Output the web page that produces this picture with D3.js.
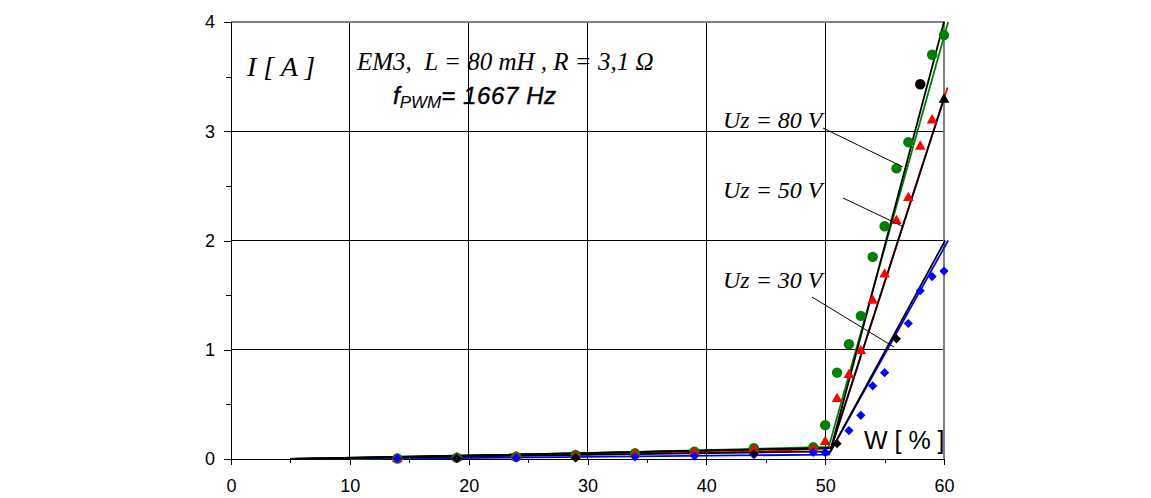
<!DOCTYPE html>
<html><head><meta charset="utf-8">
<script src="https://cdn.jsdelivr.net/npm/d3@7"></script>
<style>body{margin:0;background:#fff}svg{display:block}</style>
</head><body>
<script>
// ---- data ----
const xTicks = [0,10,20,30,40,50,60];
const yTicks = [0,1,2,3,4];
const greenX = [14,19,24,29,34,39,44,49,50,51,52,53,54,55,56,57,59,60];
const greenY = [0.005,0.012,0.021,0.037,0.052,0.067,0.098,0.107,0.31,0.79,1.05,1.31,1.85,2.13,2.66,2.90,3.70,3.88];
const redX = [14,19,24,29,34,39,44,49,50,51,52,53,54,55,56,57,58,59];
const redY = [0.0,0.01,0.018,0.03,0.045,0.06,0.085,0.09,0.156,0.55,0.77,0.99,1.45,1.69,2.18,2.39,2.86,3.10];
const blueX = [14,19,24,29,34,39,44,49,50,52,53,54,55,57,58,59,60];
const blueY = [0.005,0.005,0.01,0.012,0.02,0.027,0.04,0.06,0.06,0.26,0.40,0.67,0.79,1.24,1.54,1.67,1.72];
const blackDiamondX = [19,29,44,51,56];
const blackDiamondY = [0.005,0.01,0.05,0.14,1.10];
const blackCircleX = [58], blackCircleY = [3.43];
const blackTriangleX = [60], blackTriangleY = [3.29];
// model lines
const greenLineX = [10,50.3,60.35], greenLineY = [0,0.11,4.0];
const redLineX = [5,45,50.5,60.3], redLineY = [0,0.07,0.1,3.4];
const blueLineX = [10,50.3,60.35], blueLineY = [0,0.04,2.0];
const black80X = [5,50.5,60.0], black80Y = [0,0.1,4.0];
const black50X = [5,50.5,60.0], black50Y = [0,0.1,3.3];
const black30X = [5,50.45,60.1], black30Y = [0,0.07,2.0];

const W = 1151, H = 498;
const x = d3.scaleLinear().domain([0,60]).range([231,944]);
const y = d3.scaleLinear().domain([0,4]).range([459,22]);

const svg = d3.select("body").append("svg").attr("width",W).attr("height",H);

// grid
svg.append("g").selectAll("line").data(xTicks.slice(1,-1)).join("line")
  .attr("x1",d=>x(d)).attr("x2",d=>x(d)).attr("y1",y(4)).attr("y2",y(0))
  .attr("stroke","#000").attr("stroke-width",1).attr("shape-rendering","crispEdges");
svg.append("g").selectAll("line").data(yTicks.slice(1,-1)).join("line")
  .attr("x1",x(0)).attr("x2",x(60)).attr("y1",d=>y(d)).attr("y2",d=>y(d))
  .attr("stroke","#000").attr("stroke-width",1).attr("shape-rendering","crispEdges");
// border top/right
svg.append("path").attr("d",`M${x(0)},${y(4)}H${x(60)}V${y(0)}`)
  .attr("fill","none").attr("stroke","#808080").attr("stroke-width",1.3).attr("shape-rendering","crispEdges");

// axes
const font = "'Liberation Sans', Arial, sans-serif";
const xAxis = d3.axisBottom(x).tickValues(xTicks).tickSize(6).tickPadding(14).tickFormat(d3.format("d"));
const gx = svg.append("g").attr("transform",`translate(0,${y(0)})`).call(xAxis);
const xMinor = d3.axisBottom(x).tickValues([5,15,25,35,45,55]).tickSize(4).tickFormat("");
svg.append("g").attr("transform",`translate(0,${y(0)})`).call(xMinor).select(".domain").remove();
const yAxis = d3.axisLeft(y).tickValues(yTicks).tickSize(7).tickPadding(9).tickFormat(d3.format("d"));
const gy = svg.append("g").attr("transform",`translate(${x(0)},0)`).call(yAxis);
const yMinor = d3.axisLeft(y).tickValues([0.5,1.5,2.5,3.5]).tickSize(5).tickFormat("");
svg.append("g").attr("transform",`translate(${x(0)},0)`).call(yMinor).select(".domain").remove();
svg.selectAll(".tick text").attr("font-family",font).attr("font-size",18).attr("fill","#000");
svg.selectAll(".domain,.tick line").attr("stroke","#000").attr("shape-rendering","crispEdges");
gx.selectAll(".domain").attr("d",`M${x(0)},0H${x(60)}`);
gy.selectAll(".domain").attr("d",`M0,${y(0)}V${y(4)}`);

// lines
const line = d3.line().x(d=>x(d[0])).y(d=>y(d[1]));
function drawLine(xs,ys,color,w){
  svg.append("path").datum(xs.map((v,i)=>[v,ys[i]])).attr("d",line)
    .attr("fill","none").attr("stroke",color).attr("stroke-width",w);
}
drawLine(redLineX,redLineY,"#ff0000",1.8);
drawLine(blueLineX,blueLineY,"#0000ff",1.8);
drawLine(greenLineX,greenLineY,"#008000",1.8);
drawLine(black30X,black30Y,"#000",1.8);
drawLine(black50X,black50Y,"#000",1.8);
drawLine(black80X,black80Y,"#000",1.8);

// markers
function marks(xs,ys,type,size,color,rot){
  const sym = d3.symbol().type(type).size(size);
  svg.append("g").selectAll("path").data(xs.map((v,i)=>[v,ys[i]])).join("path")
    .attr("d",sym).attr("fill",color)
    .attr("transform",d=>`translate(${x(d[0])},${y(d[1])})${rot?" rotate(45)":""}`);
}
marks(greenX,greenY,d3.symbolCircle,85,"#008000");
marks(redX,redY,d3.symbolTriangle,50,"#ff0000");
marks(blueX,blueY,d3.symbolSquare,42,"#0000ff",true);
marks(blackDiamondX,blackDiamondY,d3.symbolSquare,42,"#000",true);
marks(blackCircleX,blackCircleY,d3.symbolCircle,85,"#000");
marks(blackTriangleX,blackTriangleY,d3.symbolTriangle,50,"#000");

// annotations
const serif = "'Liberation Serif','Times New Roman',serif";
svg.append("text").attr("x",247).attr("y",76).attr("font-family",serif).attr("font-style","italic")
  .attr("font-size",28).attr("xml:space","preserve").text("I [ A ]");
svg.append("text").attr("x",357).attr("y",70).attr("font-family",serif).attr("font-style","italic")
  .attr("font-size",25).attr("xml:space","preserve").text("EM3,  L = 80 mH , R = 3,1 Ω");
const f = svg.append("text").attr("x",393).attr("y",104).attr("font-family",font).attr("font-style","italic")
  .attr("font-size",24).attr("stroke","#000").attr("stroke-width",0.4);
f.append("tspan").text("f");
f.append("tspan").attr("font-size",17).attr("stroke-width",0).attr("dy",4).text("PWM");
f.append("tspan").attr("dy",-4).attr("letter-spacing",0.6).text("= 1667 Hz");

const labels = [["Uz = 80 V",128],["Uz = 50 V",198],["Uz = 30 V",288]];
svg.append("g").selectAll("text").data(labels).join("text")
  .attr("x",723).attr("y",d=>d[1]).attr("font-family",serif).attr("font-style","italic")
  .attr("font-size",24).text(d=>d[0]);
const pointers = [[823,128,903,167],[843,198,902,226],[812,297,894,347]];
svg.append("g").selectAll("line").data(pointers).join("line")
  .attr("x1",d=>d[0]).attr("y1",d=>d[1]).attr("x2",d=>d[2]).attr("y2",d=>d[3])
  .attr("stroke","#000").attr("stroke-width",1);
svg.append("text").attr("x",864).attr("y",449).attr("font-family",font).attr("font-size",25).attr("xml:space","preserve").text("W [ % ]");
</script>
</body></html>
